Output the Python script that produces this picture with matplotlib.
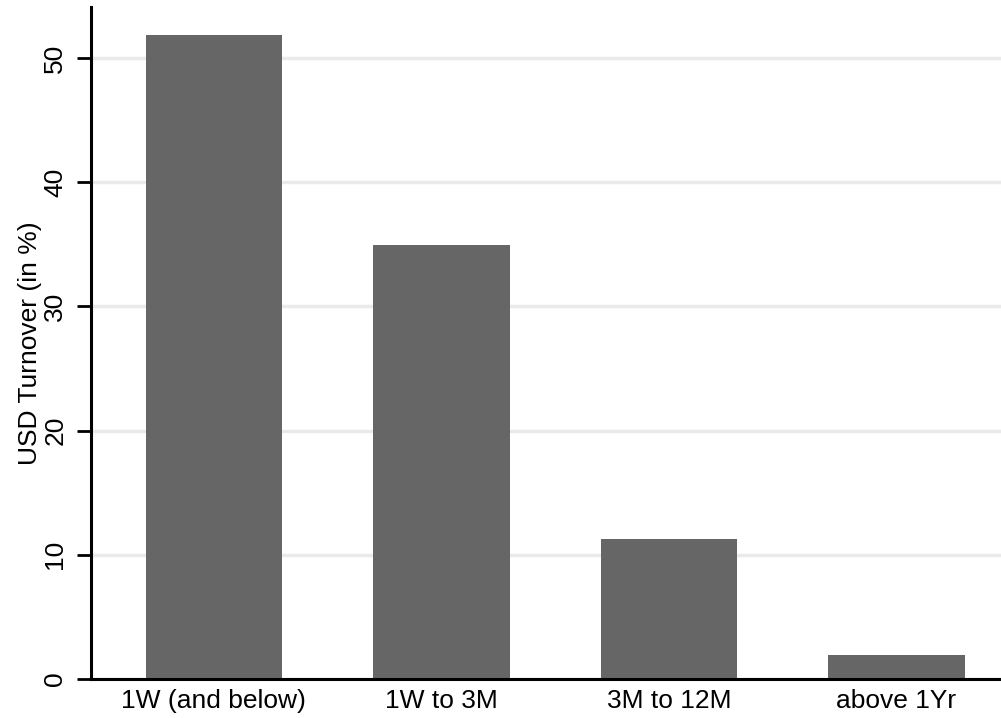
import matplotlib
matplotlib.use("Agg")
import matplotlib.pyplot as plt
import numpy as np

plt.rcParams['font.family'] = ['Liberation Sans', 'DejaVu Sans']

maturities = ['1W (and below)', '1W to 3M', '3M to 12M', 'above 1Yr']
turnover = [51.9, 34.95, 11.3, 1.9]
y_ticks = [0, 10, 20, 30, 40, 50]

fig = plt.figure(figsize=(10.01, 7.18), dpi=100)
ax = fig.add_axes([0.0909, 0.0543, 0.9091, 0.9357])

x = np.arange(len(maturities))
ax.bar(x, turnover, width=0.6, color='#666666', zorder=2)

ax.set_xlim(-0.54, 3.46)
ax.set_ylim(0, 54.1)
ax.set_yticks(y_ticks)
ax.set_yticklabels([str(t) for t in y_ticks], rotation=90, va='center', fontsize=19)
ax.set_xticks(x)
ax.set_xticklabels(maturities, fontsize=19)
ax.tick_params(axis='x', length=0, pad=7)
ax.tick_params(axis='y', length=10, width=2, pad=7)
ax.set_ylabel('USD Turnover (in %)', fontsize=19, labelpad=1)

ax.yaxis.grid(True, color='#eaeaea', linewidth=2.5, zorder=0)
ax.set_axisbelow(True)
for s in ['top', 'right']:
    ax.spines[s].set_visible(False)
ax.spines['left'].set_linewidth(2.2)
ax.spines['bottom'].set_linewidth(2.2)

fig.savefig('out.png', dpi=100)
